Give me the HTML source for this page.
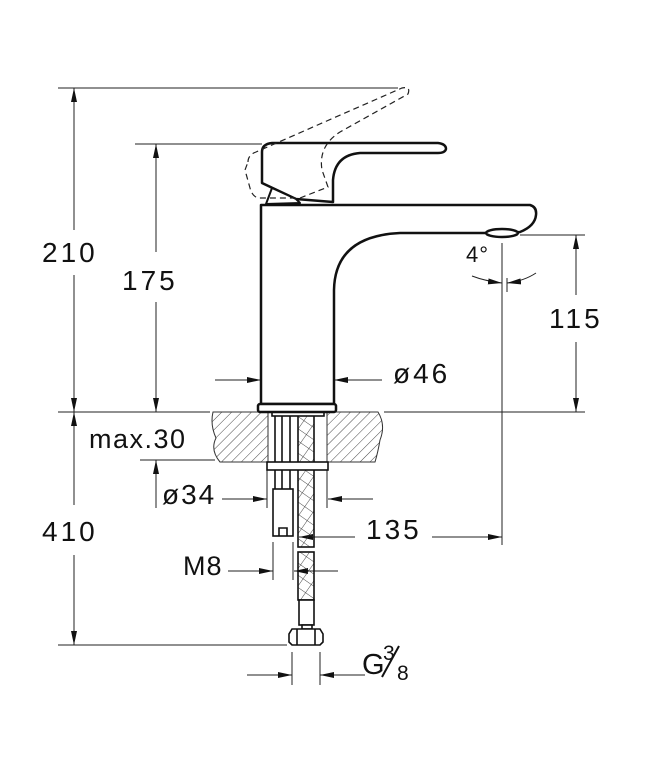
<!DOCTYPE html>
<html><head><meta charset="utf-8"><style>
html,body{margin:0;padding:0;background:#fff;}
svg{display:block;}
text{font-family:"Liberation Sans",sans-serif;font-size:28px;fill:#111;letter-spacing:3px;}
</style></head><body>
<svg width="645" height="774" viewBox="0 0 645 774" xmlns="http://www.w3.org/2000/svg">
<defs>
<marker id="a" viewBox="0 0 14 6" refX="14" refY="3" markerWidth="14" markerHeight="6" markerUnits="userSpaceOnUse" orient="auto"><path d="M0,0 L14,3 L0,6 z" fill="#111"/></marker>
<pattern id="h" width="7" height="7" patternUnits="userSpaceOnUse" patternTransform="rotate(45)"><line x1="0" y1="0" x2="0" y2="7" stroke="#333" stroke-width="0.9"/></pattern>
<pattern id="x" width="10" height="10" patternUnits="userSpaceOnUse" patternTransform="rotate(35)"><line x1="0" y1="0" x2="0" y2="10" stroke="#333" stroke-width="0.9"/><line x1="0" y1="0" x2="10" y2="0" stroke="#333" stroke-width="0.9"/></pattern>
</defs>
<g stroke="#222" stroke-width="1" fill="none">
<line x1="58" y1="88" x2="398" y2="88"/>
<line x1="135" y1="144" x2="262" y2="144"/>
<line x1="58" y1="412" x2="210" y2="412"/>
<line x1="384" y1="412" x2="585" y2="412"/>
<line x1="520" y1="235" x2="585" y2="235"/>
<line x1="140" y1="460" x2="215" y2="460"/>
<line x1="58" y1="645" x2="287" y2="645"/>
<line x1="74" y1="230" x2="74" y2="88" marker-end="url(#a)"/>
<line x1="74" y1="275" x2="74" y2="412" marker-end="url(#a)"/>
<line x1="156" y1="252" x2="156" y2="144" marker-end="url(#a)"/>
<line x1="156" y1="302" x2="156" y2="412" marker-end="url(#a)"/>
<line x1="74" y1="505" x2="74" y2="412" marker-end="url(#a)"/>
<line x1="74" y1="555" x2="74" y2="645" marker-end="url(#a)"/>
<line x1="156" y1="508" x2="156" y2="460" marker-end="url(#a)"/>
<line x1="576" y1="295" x2="576" y2="235" marker-end="url(#a)"/>
<line x1="576" y1="342" x2="576" y2="412" marker-end="url(#a)"/>
<line x1="502" y1="243" x2="502" y2="545"/>
<line x1="507" y1="278" x2="507" y2="292"/>
<path d="M472,276 Q485,281 502,283" marker-end="url(#a)"/>
<path d="M536,273 Q524,281 507,283" marker-end="url(#a)"/>
<line x1="215" y1="380" x2="261" y2="380" marker-end="url(#a)"/>
<line x1="382" y1="380" x2="334" y2="380" marker-end="url(#a)"/>
<line x1="222" y1="499" x2="267" y2="499" marker-end="url(#a)"/>
<line x1="373" y1="499" x2="328" y2="499" marker-end="url(#a)"/>
<line x1="267" y1="470" x2="267" y2="508"/><line x1="327" y1="470" x2="327" y2="508"/>
<line x1="355" y1="537" x2="299" y2="537" marker-end="url(#a)"/>
<line x1="432" y1="537" x2="502" y2="537" marker-end="url(#a)"/>
<line x1="273" y1="542" x2="273" y2="580"/><line x1="293" y1="542" x2="293" y2="580"/>
<line x1="228" y1="571" x2="273" y2="571" marker-end="url(#a)"/>
<line x1="338" y1="571" x2="294" y2="571" marker-end="url(#a)"/>
<line x1="292" y1="652" x2="292" y2="685"/><line x1="320" y1="652" x2="320" y2="685"/>
<line x1="247" y1="675" x2="292" y2="675" marker-end="url(#a)"/>
<line x1="365" y1="675" x2="320" y2="675" marker-end="url(#a)"/>
</g>
<path d="M213,412 L268,412 L268,462 L220,462 Q210,450 216,438 Q210,425 213,412 z" fill="url(#h)" stroke="#333" stroke-width="1"/>
<path d="M327,412 L378,412 Q386,425 380,440 Q378,452 375,462 L327,462 z" fill="url(#h)" stroke="#333" stroke-width="1"/>
<g stroke="#111" stroke-width="1.6" fill="#fff">
<rect x="275" y="414" width="15" height="76"/>
<line x1="282" y1="414" x2="282" y2="490"/>
<rect x="298" y="414" width="16" height="133" fill="url(#x)"/>
<rect x="298" y="552" width="16" height="48" fill="url(#x)"/>
<rect x="267" y="462" width="61" height="8"/>
<rect x="273" y="489" width="20" height="47"/>
<path d="M279,536 L279,528 L287,528 L287,536" fill="none"/>
<rect x="299" y="600" width="15" height="25"/>
<rect x="302" y="625" width="10" height="4"/>
<path d="M292,629 L320,629 L323,634 L323,642 L320,645 L292,645 L289,642 L289,634 z"/>
<line x1="297" y1="629" x2="297" y2="645"/><line x1="315" y1="629" x2="315" y2="645"/>
<rect x="272" y="412" width="52" height="4"/>
</g>
<g stroke="#111" stroke-width="2.5" fill="#fff" stroke-linejoin="round">
<path d="M261,205 L530,205 Q537,207 536,215 Q535,226 520,232 L490,233 L400,233 Q335,236 334,290 L334,404 L261,404 z"/>
<ellipse cx="502" cy="233" rx="16" ry="4"/>
<rect x="258" y="404" width="78" height="8" rx="2"/>
<path d="M262,183 L262,152 Q262,144 272,143 L438,143 Q446,144 446,149 Q445,153 438,153 L360,153 Q335,155 333,180 L333,202 L296,199 z"/>
<path d="M266,204 L272,188 L296,199 L300,203 z" stroke-width="2"/>
</g>
<path d="M248,162 Q248,155 256,152 L402,88 Q411,86 408,94 L340,132 Q318,146 322,170 L328,187 L300,198 L258,198 Q252,196 250,188 L245,170 z" fill="none" stroke="#222" stroke-width="1.2" stroke-dasharray="6,4"/>
<text x="42" y="262">210</text>
<text x="122" y="290">175</text>
<text x="549" y="328">115</text>
<text x="42" y="541">410</text>
<text x="393" y="383">ø46</text>
<text x="89" y="448" style="font-size:27px;letter-spacing:1.5px">max.30</text>
<text x="162" y="504" style="font-size:28px;letter-spacing:2px">ø34</text>
<text x="366" y="539">135</text>
<text x="183" y="575" style="font-size:27px;letter-spacing:1px">M8</text>
<text x="466" y="262" style="font-size:22px;letter-spacing:1px">4°</text>
<text x="362" y="674" style="font-size:29px;letter-spacing:0">G</text>
<text x="383" y="660" style="font-size:21px;letter-spacing:0">3</text>
<line x1="382" y1="677" x2="399" y2="646" stroke="#111" stroke-width="2"/>
<text x="397" y="680" style="font-size:21px;letter-spacing:0">8</text>
</svg>
</body></html>
